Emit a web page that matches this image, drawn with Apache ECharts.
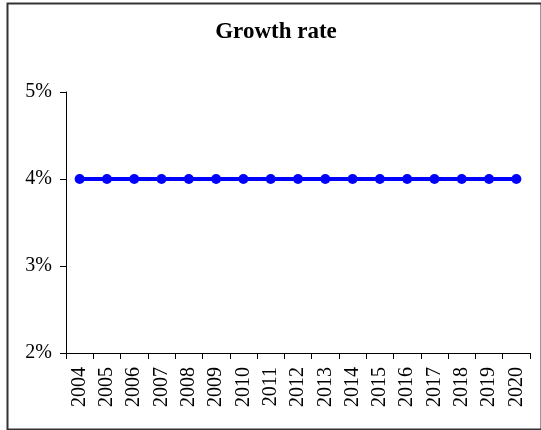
<!DOCTYPE html>
<html>
<head>
<meta charset="utf-8">
<script src="https://cdn.jsdelivr.net/npm/echarts@6/dist/echarts.min.js"></script>
<style>
html,body{margin:0;padding:0;background:#fff;}
#chart{width:541px;height:430px;}
</style>
</head>
<body>
<div id="chart"></div>
<script>
const years = ['2004','2005','2006','2007','2008','2009','2010','2011','2012','2013','2014','2015','2016','2017','2018','2019','2020'];
const growthRate = [4,4,4,4,4,4,4,4,4,4,4,4,4,4,4,4,4];
const yTicks = {min: 2, max: 5, interval: 1};
const titleText = 'Growth rate';

const chart = echarts.init(document.getElementById('chart'), null, {renderer: 'canvas'});
const font = 'Liberation Serif, Times New Roman, serif';
chart.setOption({
  animation: false,
  backgroundColor: '#fff',
  graphic: [{
    type: 'rect', left: 5, top: 1, silent: true,
    shape: {width: 534, height: 426},
    style: {fill: 'none', stroke: '#333', lineWidth: 2}
  }],
  title: {
    text: titleText, left: 271, textAlign: 'center', top: 16,
    textStyle: {fontFamily: font, fontSize: 23, fontWeight: 'bold', color: '#000'}
  },
  grid: {left: 66, right: 11, top: 92, bottom: 77, containLabel: false},
  xAxis: {
    type: 'category', data: years, boundaryGap: true,
    axisLine: {lineStyle: {color: '#000', width: 1}},
    axisTick: {show: true, length: 6, alignWithLabel: false, lineStyle: {color: '#000'}},
    axisLabel: {rotate: 90, margin: 14, interval: 0, fontFamily: font, fontSize: 20, color: '#000'},
    splitLine: {show: false}
  },
  yAxis: {
    type: 'value', min: yTicks.min, max: yTicks.max, interval: yTicks.interval,
    axisLine: {show: true, lineStyle: {color: '#000', width: 1}},
    axisTick: {show: true, length: 6, lineStyle: {color: '#000'}},
    axisLabel: {formatter: '{value}%', margin: 14, fontFamily: font, fontSize: 20, color: '#000'},
    splitLine: {show: false}
  },
  series: [{
    type: 'line', data: growthRate,
    symbol: 'circle', symbolSize: 10,
    lineStyle: {color: '#0000FF', width: 4},
    itemStyle: {color: '#0000FF'}
  }]
});
</script>
</body>
</html>
